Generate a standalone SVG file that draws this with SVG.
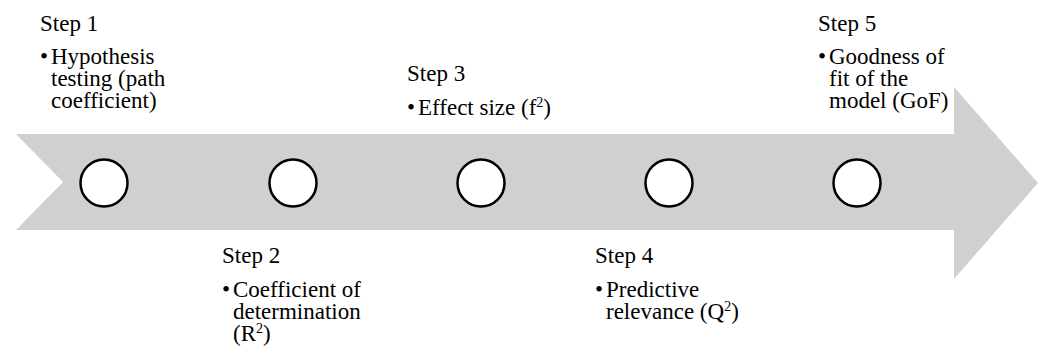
<svg xmlns="http://www.w3.org/2000/svg" width="1038" height="351" viewBox="0 0 1038 351">
<style>
.t{font-family:"Liberation Serif","Times New Roman",serif;font-size:23px;fill:#000}
.sup{font-size:14px}
.node{fill:#fff;stroke:#000;stroke-width:2.5}
</style>
<rect width="1038" height="351" fill="#fff"/>
<g id="arrow">
<polygon points="16,134 954,134 954,87 1038,183 954,279 954,230 16,230 63,182" fill="#d0d0d0"/>
</g>
<g id="circles">
<circle id="c1" class="node" cx="104" cy="183" r="23.5"/>
<circle id="c2" class="node" cx="293" cy="183" r="23.5"/>
<circle id="c3" class="node" cx="481" cy="183" r="23.5"/>
<circle id="c4" class="node" cx="669" cy="183" r="23.5"/>
<circle id="c5" class="node" cx="857" cy="183" r="23.5"/>
</g>
<g id="step1">
<text class="t" x="40" y="31">Step 1</text>
<text class="t" x="40" y="64">•</text>
<text class="t"><tspan x="51" y="64">Hypothesis</tspan><tspan x="51" y="86">testing (path</tspan><tspan x="51" y="108">coefficient)</tspan></text>
</g>
<g id="step2">
<text class="t" x="222" y="263">Step 2</text>
<text class="t" x="222" y="297">•</text>
<text class="t"><tspan x="233" y="297">Coefficient of</tspan><tspan x="233" y="319">determination</tspan><tspan x="233" y="341">(R</tspan><tspan class="sup" dy="-8">2</tspan><tspan dy="8">)</tspan></text>
</g>
<g id="step3">
<text class="t" x="407" y="81">Step 3</text>
<text class="t" x="407" y="115">•</text>
<text class="t" x="418" y="115">Effect size (f<tspan class="sup" dy="-8">2</tspan><tspan dy="8">)</tspan></text>
</g>
<g id="step4">
<text class="t" x="595" y="263">Step 4</text>
<text class="t" x="595" y="297">•</text>
<text class="t"><tspan x="606" y="297">Predictive</tspan><tspan x="606" y="319">relevance (Q</tspan><tspan class="sup" dy="-8">2</tspan><tspan dy="8">)</tspan></text>
</g>
<g id="step5">
<text class="t" x="818" y="31">Step 5</text>
<text class="t" x="818" y="64">•</text>
<text class="t"><tspan x="829" y="64">Goodness of</tspan><tspan x="829" y="86">fit of the</tspan><tspan x="829" y="108">model (GoF)</tspan></text>
</g>
</svg>
